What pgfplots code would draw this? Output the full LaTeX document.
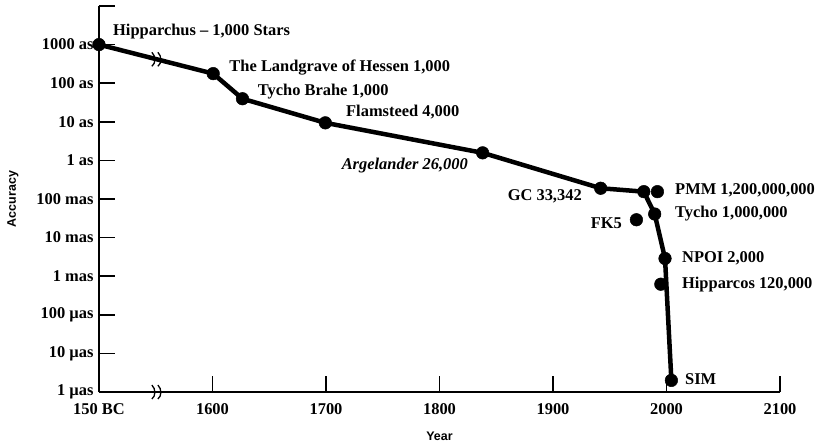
\documentclass[border=0pt]{standalone}
\usepackage{pgfplots}
\pgfplotsset{compat=1.18}
\usepackage{fontspec}
\setmainfont{Liberation Serif}
\newfontfamily\labsans{Liberation Sans}
\begin{document}
\begin{tikzpicture}[every node/.append style={font=\fontsize{16.5}{19}\selectfont\bfseries}]
\begin{axis}[name=ax,
  scale only axis, width=681bp, height=386bp,
  xmin=1500, xmax=2100, ymode=log, ymin=1, ymax=1e10,
  axis x line*=bottom, axis y line*=left,
  axis line style={line width=2.6bp},
  xtick={1500,1600,1700,1800,1900,2000,2100},
  xticklabels={150 BC,1600,1700,1800,1900,2000,2100},
  ytick={1,10,100,1000,1e4,1e5,1e6,1e7,1e8,1e9,1e10},
  yticklabels={1 µas,10 µas,100 µas,1 mas,10 mas,100 mas,1 as,10 as,100 as,1000 as,},
  yminorticks=false,
  tick align=inside,
  major tick length=16bp,
  tick style={line width=1.6bp, black},
  xticklabel style={yshift=-8bp},
  yticklabel style={xshift=-2bp},
  clip=false,
]
\addplot[line width=4.5bp, line join=round, mark=*, mark size=6.3bp, mark options={solid, line width=0.5bp, fill=black}]
  coordinates {(1500,1e9) (1600.6,1.77e8) (1626.4,3.96e7) (1699.4,9.4e6) (1838,1.57e6) (1942,1.9e5) (1980,1.55e5) (1989.6,4.08e4) (1998.7,2.88e3) (2004.3,2.0)};
\addplot[only marks, mark=*, mark size=6.3bp, mark options={line width=0.5bp, fill=black}]
  coordinates {(1992,1.55e5) (1973.5,2.9e4) (1995,620)};
\coordinate (b1) at (axis cs:1551,1);
\coordinate (b2) at (axis cs:1551,4.16e8);
\node[anchor=west, inner sep=0] at (axis cs:1512.3,2.2e9) {Hipparchus -- 1,000 Stars};
\node[anchor=west, inner sep=0] at (axis cs:1614.8,2.6e8) {The Landgrave of Hessen 1,000};
\node[anchor=west, inner sep=0] at (axis cs:1639.8,5.9e7) {Tycho Brahe 1,000};
\node[anchor=west, inner sep=0] at (axis cs:1717.6,1.8e7) {Flamsteed 4,000};
\node[anchor=east, inner sep=0] at (axis cs:1825.1,7.3e5) {\itshape Argelander 26,000};
\node[anchor=east, inner sep=0] at (axis cs:1925.5,1.2e5) {GC 33,342};
\node[anchor=west, inner sep=0] at (axis cs:2007.5,1.7e5) {PMM 1,200,000,000};
\node[anchor=west, inner sep=0] at (axis cs:2007.5,4.3e4) {Tycho 1,000,000};
\node[anchor=east, inner sep=0] at (axis cs:1960.8,2.4e4) {FK5};
\node[anchor=west, inner sep=0] at (axis cs:2013.6,2.9e3) {NPOI 2,000};
\node[anchor=west, inner sep=0] at (axis cs:2013.6,594) {Hipparcos 120,000};
\node[anchor=west, inner sep=0] at (axis cs:2016.3,2.1) {SIM};
\end{axis}
\node[rotate=90, font=\labsans\bfseries\fontsize{12.5}{14}\selectfont] at ([xshift=-86bp]ax.west) {Accuracy};
\node[font=\labsans\bfseries\fontsize{12.5}{14}\selectfont] at ([yshift=-44bp]ax.south) {Year};
\foreach \p in {b1,b2}{
  \draw[line width=1.3bp, shift={(\p)}] (-5bp,-7bp) .. controls (-1bp,-4bp) and (-1bp,3bp) .. (-5bp,7bp);
  \draw[line width=1.3bp, shift={(\p)}] (1bp,-7bp) .. controls (5bp,-4bp) and (5bp,3bp) .. (1bp,7bp);
}
\pgfresetboundingbox
\path[use as bounding box] ([shift={(-99bp,-54.5bp)}]ax.south west) rectangle ([shift={(39bp,6bp)}]ax.north east);
\end{tikzpicture}
\end{document}
